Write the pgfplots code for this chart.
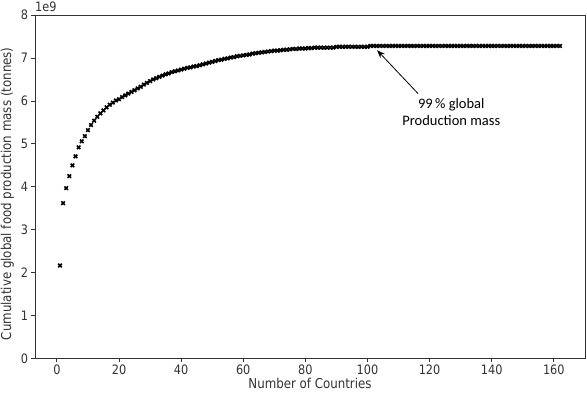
\documentclass[border=0pt]{standalone}
\usepackage{pgfplots}
\pgfplotsset{compat=1.18}
\usetikzlibrary{arrows.meta}
\usepackage{fontspec}
\setmainfont{DejaVu Sans}[FakeStretch=0.87]
\newfontfamily\annfont{Carlito}

\pgfplotstableread{
x y
1 2.17
2 3.62
3 3.97
4 4.25
5 4.50
6 4.71
7 4.92
8 5.06
9 5.18
10 5.32
11 5.44
12 5.54
13 5.63
14 5.71
15 5.78
16 5.85
17 5.91
18 5.96
19 6.01
20 6.04
21 6.09
22 6.13
23 6.17
24 6.21
25 6.25
26 6.29
27 6.33
28 6.38
29 6.42
30 6.46
31 6.50
32 6.53
33 6.56
34 6.59
35 6.62
36 6.64
37 6.67
38 6.69
39 6.71
40 6.73
41 6.75
42 6.77
43 6.78
44 6.80
45 6.81
46 6.83
47 6.85
48 6.87
49 6.89
50 6.91
51 6.93
52 6.95
53 6.96
54 6.98
55 6.99
56 7.01
57 7.02
58 7.04
59 7.05
60 7.06
61 7.07
62 7.08
63 7.10
64 7.11
65 7.12
66 7.13
67 7.14
68 7.15
69 7.16
70 7.17
71 7.17
72 7.18
73 7.19
74 7.19
75 7.20
76 7.21
77 7.21
78 7.22
79 7.22
80 7.22
81 7.23
82 7.23
83 7.24
84 7.24
85 7.24
86 7.24
87 7.24
88 7.24
89 7.24
90 7.26
91 7.26
92 7.26
93 7.26
94 7.26
95 7.26
96 7.26
97 7.26
98 7.26
99 7.26
100 7.26
101 7.28
102 7.28
103 7.28
104 7.28
105 7.28
106 7.28
107 7.28
108 7.28
109 7.28
110 7.28
111 7.28
112 7.28
113 7.28
114 7.28
115 7.28
116 7.28
117 7.28
118 7.28
119 7.28
120 7.28
121 7.28
122 7.28
123 7.28
124 7.28
125 7.28
126 7.28
127 7.28
128 7.28
129 7.28
130 7.28
131 7.28
132 7.28
133 7.28
134 7.28
135 7.28
136 7.28
137 7.28
138 7.28
139 7.28
140 7.28
141 7.28
142 7.28
143 7.28
144 7.28
145 7.28
146 7.28
147 7.28
148 7.28
149 7.28
150 7.28
151 7.28
152 7.28
153 7.28
154 7.28
155 7.28
156 7.28
157 7.28
158 7.28
159 7.28
160 7.28
161 7.28
162 7.28
}\cumdata

\begin{document}
\begin{tikzpicture}
\begin{axis}[
  scale only axis,
  width=550pt, height=343.7pt,
  xmin=-7.05, xmax=170.05,
  ymin=0, ymax=8,
  xtick={0,20,...,160},
  ytick={0,1,...,8},
  tick align=outside, tick pos=left,
  major tick length=3.5pt,
  every tick/.style={black!80, line width=0.8pt},
  axis line style={black!80, line width=0.8pt},
  /pgf/number format/assume math mode=true,
  ticklabel style={font=\fontsize{13}{15}\selectfont, text=black!80},
  label style={font=\fontsize{13.6}{15}\selectfont, text=black!80},
  xticklabel style={yshift=1pt},
  xlabel style={yshift=3pt},
  ylabel style={xshift=-7pt},
  xlabel={Number of Countries},
  ylabel={Cumulative global food production mass (tonnes)},
  clip=false,
]
\addplot[only marks, mark=x, mark size=2.5pt, line width=1.6pt, black] table[x=x, y=y] {\cumdata};

\node[anchor=south west, inner sep=0pt, font=\fontsize{13}{15}\selectfont, text=black!80]
  at (axis description cs:0,1.01) {1e9};

\draw[line width=0.8pt, -{Stealth[length=8pt, width=6pt]}]
  (axis cs:116.3,6.17) -- (axis cs:103.1,7.18);
\node[align=center, font=\annfont\fontsize{14.5}{17}\selectfont]
  at (axis cs:127,5.75) {99\,\% global\\Production mass};
\end{axis}
\pgfresetboundingbox
\path[use as bounding box] ([shift={(-35pt,-35.3pt)}]current axis.south west)
  rectangle ([shift={(2pt,15pt)}]current axis.north east);
\end{tikzpicture}
\end{document}
